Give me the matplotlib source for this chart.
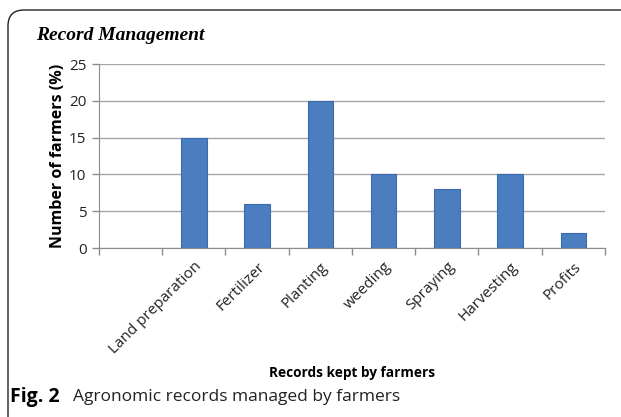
import numpy as np
import matplotlib
matplotlib.use("Agg")
import matplotlib.pyplot as plt
from matplotlib.patches import FancyBboxPatch
from matplotlib.transforms import IdentityTransform

# data (first category slot is empty)
categories = ["", "Land preparation", "Fertilizer", "Planting", "weeding",
              "Spraying", "Harvesting", "Profits"]
values = [0, 15, 6, 20, 10, 8, 10, 2]
yticks = [0, 5, 10, 15, 20, 25]

plt.rcParams['font.family'] = ['Open Sans', 'DejaVu Sans']

fig = plt.figure(figsize=(6.21, 4.17), dpi=100)
W, H = 621, 417

# rounded frame around the figure panel
frame = FancyBboxPatch((8, -30), 660, 437, boxstyle="round,pad=0,rounding_size=16",
                       transform=IdentityTransform(), fill=False,
                       edgecolor="#222222", linewidth=1.0)
fig.add_artist(frame)

ax = fig.add_axes([99 / W, 1 - 248 / H, (605 - 99) / W, (248 - 64) / H])

x = np.arange(len(categories))
ax.bar(x[1:], values[1:], width=0.4, color="#4a7ebf", edgecolor="#3a6bb0",
       linewidth=0.8, zorder=3)

ax.set_xlim(-0.5, len(categories) - 0.5)
ax.set_ylim(0, 25)
ax.set_yticks(yticks)
ax.yaxis.grid(True, color="#a6a6a6", linewidth=1.0, zorder=0)

# ticks between categories on x axis
ax.set_xticks(np.arange(len(categories) + 1) - 0.5)
ax.set_xticklabels([])
ax.tick_params(axis="x", which="major", length=5, color="#8c8c8c", width=1)
ax.set_xticks(x, minor=True)
ax.set_xticklabels(categories, minor=True, rotation=45, ha="right",
                   rotation_mode="anchor", fontsize=11, color="#222222")
ax.tick_params(axis="x", which="minor", length=0, pad=8)
ax.tick_params(axis="y", length=5, color="#8c8c8c", width=1, labelsize=11,
               labelcolor="#222222", pad=4)

for s in ["top", "right"]:
    ax.spines[s].set_visible(False)
ax.spines["left"].set_color("#8c8c8c")
ax.spines["bottom"].set_color("#8c8c8c")

ax.set_ylabel("Number of farmers (%)", fontsize=11.5, fontweight="bold", labelpad=2)
fig.text(352 / W, 1 - 373 / H, "Records kept by farmers", fontsize=9.8,
         fontweight="bold", ha="center", va="center")

fig.text(36 / W, 1 - 35 / H, "Record Management", family="Liberation Serif",
         fontsize=14, fontweight="bold", style="italic", ha="left", va="center")

fig.text(10 / W, 1 - 397 / H, "Fig. 2", fontsize=14, fontweight="bold",
         ha="left", va="center")
fig.text(73 / W, 1 - 397 / H, "Agronomic records managed by farmers", fontsize=12.5,
         ha="left", va="center", color="#222222")

fig.savefig("out.png", dpi=100)
